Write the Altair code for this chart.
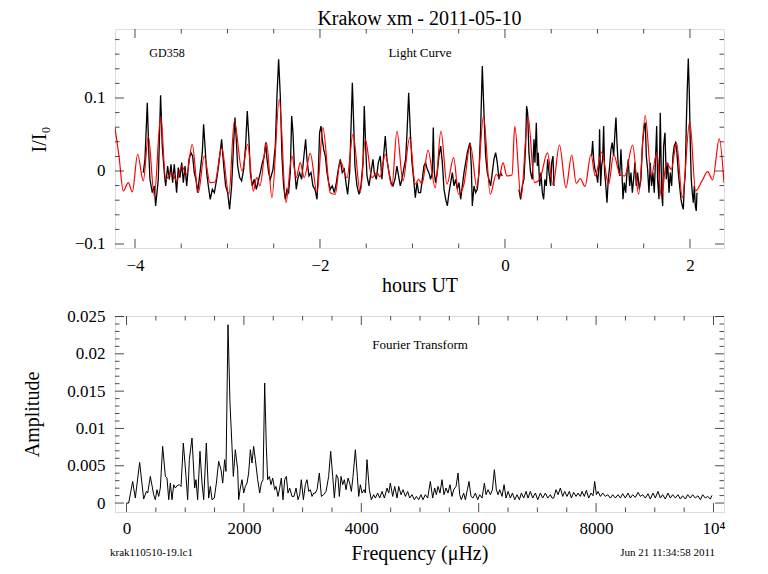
import altair as alt
import pandas as pd

# ---------------- Light curve: observed data (three segments, hours UT / I/I0) ----------------
seg1_hours = [-3.910, -3.892, -3.867, -3.849, -3.838, -3.813, -3.791, -3.777, -3.762, -3.748,
              -3.723, -3.705, -3.683, -3.668, -3.647, -3.629, -3.611, -3.593, -3.575, -3.550,
              -3.532, -3.514, -3.495, -3.477, -3.459, -3.441, -3.416, -3.395, -3.377, -3.359,
              -3.341, -3.323, -3.297, -3.272, -3.258, -3.243, -3.225, -3.207, -3.186, -3.164,
              -3.142, -3.117, -3.092, -3.063, -3.041, -3.020, -2.998, -2.977, -2.955, -2.933,
              -2.919, -2.905, -2.890, -2.868, -2.847, -2.825, -2.804, -2.786, -2.768, -2.753,
              -2.732, -2.710, -2.688, -2.667, -2.645, -2.623, -2.602, -2.587, -2.573, -2.555,
              -2.537, -2.508, -2.483, -2.465, -2.447, -2.429, -2.411, -2.393, -2.375, -2.357,
              -2.339, -2.321, -2.306, -2.292, -2.277, -2.256, -2.241, -2.220, -2.198, -2.177,
              -2.155, -2.141, -2.119, -2.097, -2.076, -2.054, -2.032, -2.018, -2.004, -1.989,
              -1.975, -1.960, -1.942, -1.924, -1.906, -1.888, -1.867, -1.845, -1.823, -1.802,
              -1.780, -1.759, -1.737, -1.715, -1.701, -1.679, -1.665, -1.650, -1.636, -1.622,
              -1.600, -1.578, -1.557, -1.535, -1.521, -1.506, -1.492, -1.470, -1.449, -1.427,
              -1.413, -1.391, -1.369, -1.348, -1.330, -1.312, -1.294, -1.276, -1.254, -1.232,
              -1.211, -1.189, -1.168, -1.150, -1.132, -1.114, -1.095, -1.074, -1.059, -1.041,
              -1.023, -1.005, -0.987, -0.969, -0.951, -0.933, -0.912, -0.894, -0.876, -0.858,
              -0.840, -0.822, -0.804, -0.786, -0.775, -0.764, -0.750, -0.732, -0.714, -0.695,
              -0.677, -0.659, -0.641, -0.623, -0.605, -0.587, -0.569, -0.551, -0.533, -0.515,
              -0.497, -0.479, -0.461, -0.443, -0.425, -0.407, -0.389, -0.378, -0.364, -0.353,
              -0.335, -0.317, -0.299, -0.281, -0.263, -0.245, -0.227, -0.209, -0.191, -0.173,
              -0.155, -0.137, -0.119, -0.101, -0.083, -0.065, -0.047, -0.029]
seg1_flux = [-0.0023, 0.0160, 0.0936, 0.0205, -0.0114, -0.0297, -0.0205, -0.0479, -0.0297, -0.0114,
             0.1037, 0.0342, -0.0023, -0.0205, 0.0068, -0.0114, 0.0091, -0.0160, 0.0091, -0.0297,
             0.0046, -0.0091, 0.0114, -0.0160, 0.0068, -0.0205, 0.0160, 0.0251, 0.0205, -0.0023,
             -0.0114, -0.0297, -0.0023, 0.0251, 0.0639, 0.0342, -0.0023, -0.0205, -0.0388, -0.0251,
             -0.0297, -0.0114, 0.0114, 0.0434, 0.0068, -0.0205, -0.0297, -0.0525, -0.0205, 0.0388,
             0.0731, 0.0434, 0.0068, -0.0091, -0.0137, 0.0023, 0.0342, 0.0822, 0.0434, -0.0023,
             -0.0205, -0.0114, -0.0251, -0.0137, -0.0023, 0.0114, 0.0205, 0.0388, 0.0160, -0.0023,
             -0.0114, 0.0023, 0.0342, 0.1027, 0.1530, 0.1027, 0.0205, -0.0205, -0.0388, -0.0251,
             -0.0297, -0.0023, 0.0753, 0.0525, 0.0068, -0.0251, -0.0114, -0.0023, -0.0114, 0.0160,
             0.0434, 0.0160, -0.0068, -0.0023, -0.0205, -0.0251, -0.0388, -0.0023, 0.0525, 0.0616,
             0.0434, 0.0297, 0.0205, -0.0023, -0.0160, -0.0251, -0.0205, -0.0297, -0.0160, 0.0023,
             0.0160, -0.0023, 0.0023, -0.0205, -0.0320, -0.0023, 0.0571, 0.1210, 0.0662, 0.0068,
             -0.0205, -0.0320, -0.0205, 0.0114, 0.0890, 0.0342, -0.0068, -0.0205, -0.0023, 0.0160,
             -0.0023, -0.0114, 0.0114, 0.0205, -0.0114, 0.0205, 0.0479, 0.0160, -0.0023, -0.0160,
             -0.0205, -0.0114, 0.0068, -0.0068, -0.0205, -0.0114, 0.0023, 0.0160, 0.0525, 0.1073,
             0.0525, 0.0114, -0.0114, -0.0365, -0.0160, -0.0297, -0.0297, -0.0114, 0.0068, 0.0114,
             0.0023, -0.0023, -0.0114, -0.0023, 0.0594, -0.0023, -0.0160, -0.0023, 0.0205, 0.0342,
             0.0114, -0.0251, -0.0388, -0.0479, -0.0297, -0.0160, -0.0023, -0.0205, -0.0114, -0.0251,
             -0.0160, -0.0388, -0.0205, -0.0023, 0.0114, 0.0251, 0.0342, 0.0388, 0.0068, -0.0479,
             -0.0205, -0.0297, -0.0251, -0.0023, 0.0571, 0.1438, 0.0799, 0.0205, -0.0023, -0.0114,
             -0.0205, -0.0023, 0.0160, 0.0251, 0.0114, -0.0114, -0.0023, -0.0068]

seg2_hours = [0.151, 0.169, 0.187, 0.205, 0.223, 0.234, 0.245, 0.259, 0.277, 0.295,
              0.314, 0.324, 0.339, 0.350, 0.360, 0.375, 0.389, 0.404, 0.418, 0.432,
              0.447, 0.461, 0.476, 0.494, 0.505, 0.519, 0.530]
seg2_flux = [-0.0251, -0.0388, -0.0205, -0.0114, 0.0342, 0.0890, 0.0799, 0.0251, -0.0023, -0.0114,
             0.0434, 0.0114, 0.0662, 0.0068, 0.0251, -0.0205, -0.0023, -0.0297, -0.0388, -0.0114,
             -0.0205, 0.0160, -0.0023, -0.0205, 0.0114, 0.0205, -0.0205]

seg3_hours = [0.937, 0.948, 0.959, 0.973, 0.987, 1.002, 1.016, 1.023, 1.034, 1.045,
              1.056, 1.067, 1.077, 1.088, 1.103, 1.117, 1.132, 1.146, 1.160, 1.175,
              1.189, 1.200, 1.211, 1.225, 1.240, 1.254, 1.265, 1.276, 1.290, 1.305,
              1.319, 1.333, 1.348, 1.362, 1.377, 1.391, 1.405, 1.420, 1.434, 1.452,
              1.470, 1.488, 1.506, 1.517, 1.528, 1.542, 1.557, 1.571, 1.585, 1.600,
              1.614, 1.629, 1.640, 1.650, 1.665, 1.679, 1.694, 1.705, 1.715, 1.730,
              1.744, 1.759, 1.773, 1.787, 1.802, 1.816, 1.830, 1.845, 1.859, 1.874,
              1.888, 1.903, 1.917, 1.928, 1.939, 1.950, 1.960, 1.971, 1.982, 1.993,
              2.004, 2.014, 2.025, 2.036, 2.047, 2.058, 2.068, 2.076]
seg3_flux = [0.0205, 0.0411, 0.0160, 0.0023, -0.0023, -0.0160, 0.0068, 0.0571, -0.0205, 0.0068,
             0.0160, 0.0616, -0.0023, -0.0160, -0.0434, -0.0114, 0.0068, 0.0297, 0.0388, 0.0205,
             0.0525, 0.0731, 0.0388, 0.0068, -0.0068, 0.0297, -0.0023, -0.0388, -0.0160, -0.0297,
             -0.0023, 0.0160, -0.0205, -0.0023, -0.0297, -0.0114, 0.0114, -0.0205, -0.0023, -0.0251,
             -0.0114, 0.0388, 0.0616, 0.0662, 0.0205, 0.0023, -0.0297, 0.0114, -0.0205, -0.0023,
             -0.0297, 0.0205, 0.0616, -0.0114, -0.0388, 0.0799, -0.0297, -0.0479, 0.0342, 0.0525,
             -0.0114, 0.0114, -0.0297, -0.0023, -0.0205, 0.0205, 0.0342, 0.0388, 0.0251, -0.0023,
             -0.0205, -0.0388, -0.0479, -0.0525, -0.0205, -0.0023, 0.0616, 0.1119, 0.1539, 0.1073,
             0.0342, -0.0114, -0.0297, -0.0434, -0.0205, -0.0479, -0.0548, -0.0297]

# ---------------- Light curve: fitted model (red) ----------------
model_hours = [-4.216, -4.173, -4.126, -4.072, -4.029, -3.971, -3.910, -3.856, -3.791, -3.722,
               -3.668, -3.603, -3.549, -3.495, -3.441, -3.381, -3.316, -3.251, -3.189, -3.135,
               -3.063, -2.984, -2.926, -2.843, -2.782, -2.721, -2.685, -2.649, -2.578, -2.519,
               -2.440, -2.368, -2.303, -2.256, -2.213, -2.170, -2.105, -2.032, -1.968, -1.889,
               -1.835, -1.781, -1.708, -1.643, -1.564, -1.510, -1.438, -1.384, -1.351, -1.294,
               -1.222, -1.168, -1.103, -1.030, -0.970, -0.933, -0.897, -0.832, -0.754, -0.692,
               -0.627, -0.555, -0.501, -0.443, -0.375, -0.303, -0.232, -0.159, -0.094, -0.062,
               -0.022, 0.022, 0.076, 0.106, 0.173, 0.249, 0.319, 0.378, 0.459, 0.519,
               0.589, 0.659, 0.722, 0.771, 0.814, 0.865, 0.930, 0.976, 1.046, 1.121,
               1.175, 1.246, 1.294, 1.381, 1.445, 1.516, 1.582, 1.643, 1.690, 1.746,
               1.798, 1.855, 1.917, 1.998, 2.061, 2.130, 2.191, 2.245, 2.317, 2.368]
model_flux = [0.0593, 0.0205, -0.0274, -0.0160, -0.0288, 0.0229, -0.0137, 0.0479, -0.0342, 0.0753,
              -0.0114, -0.0023, -0.0137, 0.0068, -0.0045, 0.0366, -0.0297, 0.0205, -0.0160, -0.0151,
              0.0319, -0.0319, 0.0685, 0.0000, 0.0366, -0.0274, -0.0092, -0.0205, 0.0388, -0.0366,
              0.0982, -0.0434, 0.0205, -0.0092, 0.0114, -0.0092, 0.0242, -0.0297, 0.0593, -0.0297,
              -0.0319, 0.0137, -0.0092, 0.0503, -0.0297, 0.0434, -0.0092, -0.0023, -0.0082, 0.0229,
              -0.0205, 0.0548, -0.0137, 0.0456, -0.0182, -0.0114, -0.0178, 0.0284, -0.0229, 0.0548,
              -0.0182, 0.0182, -0.0319, -0.0178, 0.0366, -0.0229, 0.0753, -0.0319, -0.0045, -0.0092,
              0.0114, -0.0068, -0.0055, 0.0610, -0.0366, 0.0753, -0.0160, -0.0110, 0.0247, -0.0192,
              0.0356, -0.0229, 0.0219, -0.0171, -0.0103, -0.0212, 0.0229, -0.0068, 0.0260, -0.0182,
              0.0226, -0.0055, -0.0068, 0.0356, -0.0319, 0.0758, -0.0068, 0.0253, -0.0356, 0.0110,
              0.0023, 0.0388, -0.0366, 0.0685, -0.0274, -0.0137, -0.0010, -0.0121, 0.0441, -0.0164]

# ---------------- Fourier transform (frequency in microHz, amplitude) ----------------
ft_freq = [0, 37, 105, 150, 224, 292, 338, 361, 406, 463, 491, 520, 548, 576, 616, 662, 690, 719,
           747, 775, 804, 832, 860, 900, 929, 968, 1014, 1042, 1070, 1116, 1161, 1184, 1212, 1252,
           1286, 1315, 1360, 1400, 1428, 1457, 1496, 1531, 1570, 1610, 1639, 1672, 1695, 1729, 1763,
           1797, 1820, 1854, 1894, 1911, 1939, 1968, 1996, 2024, 2053, 2081, 2110, 2138, 2166, 2195,
           2235, 2269, 2297, 2326, 2354, 2382, 2405, 2433, 2462, 2490, 2524, 2547, 2581, 2609, 2638,
           2666, 2695, 2723, 2751, 2780, 2820, 2854, 2888, 2922, 2950, 2978, 3013, 3047, 3075, 3104,
           3132, 3160, 3189, 3217, 3246, 3285, 3320, 3359, 3399, 3444, 3478, 3513, 3541, 3575, 3604,
           3626, 3655, 3683, 3711, 3740, 3774, 3802, 3831, 3859, 3899, 3933, 3956, 3984, 4012, 4047,
           4069, 4097, 4137, 4171, 4211, 4240, 4279, 4313, 4353, 4393, 4438, 4467, 4495, 4535, 4569,
           4609, 4637, 4677, 4711, 4751, 4790, 4824, 4864, 4904, 4938, 4978, 5017, 5051, 5091, 5131,
           5176, 5216, 5250, 5279, 5307, 5341, 5375, 5409, 5443, 5477, 5511, 5545, 5574, 5614, 5648,
           5676, 5704, 5744, 5773, 5807, 5835, 5869, 5903, 5943, 5983, 6017, 6057, 6097, 6125, 6159,
           6199, 6233, 6267, 6301, 6330, 6358, 6398, 6432, 6466, 6500, 6540, 6574, 6614, 6653, 6693,
           6727, 6767, 6807, 6841, 6880, 6920, 6966, 7005, 7051, 7090, 7136, 7176, 7221, 7249, 7278,
           7317, 7352, 7391, 7431, 7465, 7505, 7544, 7579, 7618, 7658, 7692, 7732, 7760, 7800, 7834,
           7874, 7914, 7948, 7976, 8005, 8033, 8073, 8113, 8158, 8198, 8243, 8283, 8328, 8374, 8414,
           8453, 8498, 8544, 8583, 8623, 8668, 8714, 8754, 8793, 8839, 8884, 8924, 8969, 9009, 9054,
           9094, 9134, 9179, 9225, 9264, 9304, 9350, 9395, 9435, 9474, 9520, 9560, 9605, 9645, 9690,
           9736, 9776, 9816, 9861, 9901, 9946, 9975]
ft_amp = [0.0, 0.0, 0.00290, 0.00067, 0.00545, 0.00054, 0.00156, 0.00134, 0.00357, 0.00112, 0.00045,
          0.00179, 0.00089, 0.00201, 0.00760, 0.00357, 0.00335, 0.00045, 0.00268, 0.00045, 0.00246,
          0.00201, 0.00232, 0.00246, 0.00223, 0.00804, 0.00357, 0.00045, 0.00581, 0.00871, 0.00201,
          0.00313, 0.00045, 0.00693, 0.00268, 0.00045, 0.00804, 0.00067, 0.00223, 0.00045, 0.00067,
          0.00268, 0.00559, 0.00447, 0.00268, 0.00581, 0.00424, 0.02390, 0.01340, 0.00760, 0.00357,
          0.00715, 0.00447, 0.00045, 0.00201, 0.00313, 0.00134, 0.00223, 0.00268, 0.00402, 0.00715,
          0.00536, 0.00760, 0.00581, 0.00313, 0.00134, 0.00268, 0.00313, 0.01609, 0.00760, 0.00313,
          0.00357, 0.00246, 0.00335, 0.00179, 0.00223, 0.00089, 0.00201, 0.00335, 0.00045, 0.00313,
          0.00357, 0.00134, 0.00201, 0.00089, 0.00089, 0.00201, 0.00045, 0.00112, 0.00313, 0.00045,
          0.00246, 0.00313, 0.00156, 0.00179, 0.00089, 0.00134, 0.00134, 0.00179, 0.00402, 0.00089,
          0.00112, 0.00156, 0.00357, 0.00693, 0.00357, 0.00067, 0.00380, 0.00335, 0.00089, 0.00357,
          0.00246, 0.00313, 0.00179, 0.00335, 0.00268, 0.00156, 0.00357, 0.00715, 0.00357, 0.00089,
          0.00246, 0.00134, 0.00179, 0.00134, 0.00581, 0.00179, 0.00045, 0.00112, 0.00067, 0.00134,
          0.00067, 0.00156, 0.00067, 0.00201, 0.00134, 0.00268, 0.00089, 0.00223, 0.00067, 0.00223,
          0.00112, 0.00179, 0.00089, 0.00156, 0.00067, 0.00112, 0.00045, 0.00089, 0.00045, 0.00112,
          0.00045, 0.00112, 0.00067, 0.00290, 0.00067, 0.00201, 0.00112, 0.00223, 0.00134, 0.00313,
          0.00112, 0.00201, 0.00134, 0.00246, 0.00089, 0.00179, 0.00223, 0.00402, 0.00112, 0.00045,
          0.00134, 0.00045, 0.00179, 0.00290, 0.00089, 0.00067, 0.00134, 0.00045, 0.00112, 0.00067,
          0.00268, 0.00112, 0.00179, 0.00112, 0.00179, 0.00447, 0.00179, 0.00112, 0.00179, 0.00089,
          0.00246, 0.00067, 0.00156, 0.00067, 0.00134, 0.00045, 0.00112, 0.00045, 0.00134, 0.00067,
          0.00156, 0.00067, 0.00156, 0.00067, 0.00134, 0.00045, 0.00134, 0.00067, 0.00134, 0.00067,
          0.00112, 0.00067, 0.00067, 0.00179, 0.00112, 0.00201, 0.00089, 0.00156, 0.00089, 0.00156,
          0.00067, 0.00143, 0.00089, 0.00134, 0.00089, 0.00156, 0.00089, 0.00170, 0.00067, 0.00134,
          0.00098, 0.00290, 0.00112, 0.00156, 0.00089, 0.00134, 0.00089, 0.00112, 0.00067, 0.00112,
          0.00067, 0.00112, 0.00067, 0.00125, 0.00067, 0.00134, 0.00067, 0.00112, 0.00076, 0.00143,
          0.00089, 0.00112, 0.00067, 0.00125, 0.00054, 0.00134, 0.00067, 0.00156, 0.00067, 0.00112,
          0.00054, 0.00134, 0.00067, 0.00112, 0.00067, 0.00112, 0.00054, 0.00098, 0.00054, 0.00112,
          0.00067, 0.00112, 0.00067, 0.00098, 0.00045, 0.00112, 0.00067, 0.00089, 0.00054, 0.00103]

# ---------------- Axis ticks and labels ----------------
lc_x_labels = [-4, -2, 0, 2]
lc_x_minor = [-3.5, -3, -2.5, -1.5, -1, -0.5, 0.5, 1, 1.5]
lc_y_labels = [-0.1, 0, 0.1]
lc_y_minor = [-0.08, -0.06, -0.04, -0.02, 0.02, 0.04, 0.06, 0.08, 0.12, 0.14, 0.16, 0.18]
ft_x_labels = [0, 2000, 4000, 6000, 8000, 10000]
ft_x_minor = [500, 1000, 1500, 2500, 3000, 3500, 4500, 5000, 5500, 6500, 7000, 7500, 8500, 9000, 9500]
ft_y_labels = [0, 0.005, 0.01, 0.015, 0.02, 0.025]
ft_y_minor = [0.001, 0.002, 0.003, 0.004, 0.006, 0.007, 0.008, 0.009, 0.011, 0.012, 0.013, 0.014,
              0.016, 0.017, 0.018, 0.019, 0.021, 0.022, 0.023, 0.024]

TITLE = "Krakow xm - 2011-05-10"
SERIF = "Liberation Serif"
W = 609
H_TOP = 219
H_BOT = 196

x_top = alt.Scale(domain=[-4.216, 2.368], nice=False, zero=False)
y_top = alt.Scale(domain=[-0.1055, 0.1945], nice=False, zero=False)
x_bot = alt.Scale(domain=[-196, 10179], nice=False, zero=False)
y_bot = alt.Scale(domain=[-0.0012, 0.02507], nice=False, zero=False)


def axis(values, fmt, title, **kw):
    return alt.Axis(values=values, format=fmt, title=title, ticks=False, domain=False, grid=False,
                    labelFont=SERIF, labelFontSize=17, labelColor="black", labelOverlap=False,
                    labelFlush=False, titleFont=SERIF, titleFontSize=20, titleFontWeight="normal",
                    titleColor="black", titleAlign="center", titleBaseline="middle", **kw)


ax_top_x = axis(lc_x_labels, "~g", "hours UT", labelPadding=9, titleX=W / 2, titleY=37)
ax_top_y = axis(lc_y_labels, "~g", "I/I₀", labelPadding=10, titleX=-76, titleY=110, titleAngle=270)
ax_bot_x = axis(ft_x_labels, "d", "Frequency (μHz)", labelPadding=8, titleX=W / 2, titleY=41,
                labelExpr="datum.value == 10000 ? '10⁴' : datum.label")
ax_bot_y = axis(ft_y_labels, "~g", "Amplitude", labelPadding=10, titleX=-83, titleY=98, titleAngle=270)


def tick_df(major, minor):
    return pd.DataFrame({"v": list(major) + list(minor),
                         "len": [18] * len(major) + [9] * len(minor)})


def frame_ticks(xdf, ydf, xs, ys, xa, ya, w, h):
    layers = []
    for yy in (0, h):
        layers.append(alt.Chart(xdf).mark_tick(orient="vertical", clip=True, thickness=1, color="black").encode(
            x=alt.X("v:Q", scale=xs, axis=xa), y=alt.value(yy), size=alt.Size("len:Q", scale=None)))
    for xx in (0, w):
        layers.append(alt.Chart(ydf).mark_tick(orient="horizontal", clip=True, thickness=1, color="black").encode(
            y=alt.Y("v:Q", scale=ys, axis=ya), x=alt.value(xx), size=alt.Size("len:Q", scale=None)))
    return layers


# ---------- top panel ----------
obs = pd.DataFrame({
    "h": seg1_hours + seg2_hours + seg3_hours,
    "f": seg1_flux + seg2_flux + seg3_flux,
    "seg": ["a"] * len(seg1_hours) + ["b"] * len(seg2_hours) + ["c"] * len(seg3_hours),
})
model = pd.DataFrame({"h": model_hours, "f": model_flux})

black = alt.Chart(obs).mark_line(color="black", strokeWidth=1.3, clip=True).encode(
    x=alt.X("h:Q", scale=x_top, axis=ax_top_x),
    y=alt.Y("f:Q", scale=y_top, axis=ax_top_y),
    detail="seg:N",
)
red = alt.Chart(model).mark_line(color="#ff0000", strokeWidth=1.2, clip=True, interpolate="monotone").encode(
    x=alt.X("h:Q", scale=x_top, axis=ax_top_x),
    y=alt.Y("f:Q", scale=y_top, axis=ax_top_y),
)
gd = alt.Chart(pd.DataFrame({"t": ["GD358"]})).mark_text(font=SERIF, fontSize=12, color="black").encode(
    x=alt.value(52), y=alt.value(24), text="t:N")
lc_lab = alt.Chart(pd.DataFrame({"t": ["Light Curve"]})).mark_text(font=SERIF, fontSize=13, color="black").encode(
    x=alt.value(305), y=alt.value(24), text="t:N")

top = alt.layer(
    black, red, gd, lc_lab,
    *frame_ticks(tick_df(lc_x_labels, lc_x_minor), tick_df(lc_y_labels, lc_y_minor),
                 x_top, y_top, ax_top_x, ax_top_y, W, H_TOP),
).properties(
    width=W, height=H_TOP,
    title=alt.TitleParams(TITLE, font=SERIF, fontSize=20, fontWeight="normal", anchor="middle",
                          offset=0, color="black"),
)

# ---------- bottom panel ----------
ft = pd.DataFrame({"fr": ft_freq, "a": ft_amp})
ft_line = alt.Chart(ft).mark_line(color="black", strokeWidth=1, clip=True).encode(
    x=alt.X("fr:Q", scale=x_bot, axis=ax_bot_x),
    y=alt.Y("a:Q", scale=y_bot, axis=ax_bot_y),
)
ft_lab = alt.Chart(pd.DataFrame({"t": ["Fourier Transform"]})).mark_text(font=SERIF, fontSize=13, color="black").encode(
    x=alt.value(305), y=alt.value(29), text="t:N")
foot_l = alt.Chart(pd.DataFrame({"t": ["krak110510-19.lc1"]})).mark_text(
    font=SERIF, fontSize=11, color="black", align="left").encode(
    x=alt.value(-5), y=alt.value(H_BOT + 41), text="t:N")
foot_r = alt.Chart(pd.DataFrame({"t": ["Jun 21 11:34:58 2011"]})).mark_text(
    font=SERIF, fontSize=11, color="black", align="right").encode(
    x=alt.value(600), y=alt.value(H_BOT + 41), text="t:N")

bottom = alt.layer(
    ft_line, ft_lab, foot_l, foot_r,
    *frame_ticks(tick_df(ft_x_labels, ft_x_minor), tick_df(ft_y_labels, ft_y_minor),
                 x_bot, y_bot, ax_bot_x, ax_bot_y, W, H_BOT),
).properties(width=W, height=H_BOT)

chart = alt.vconcat(top, bottom, spacing=11).properties(
    padding={"left": 13, "top": 0, "right": 5, "bottom": 5}
).configure_view(stroke="black", strokeWidth=1.2).configure(background="white")

chart.save("out.html", embed_options={"renderer": "svg", "actions": False})
